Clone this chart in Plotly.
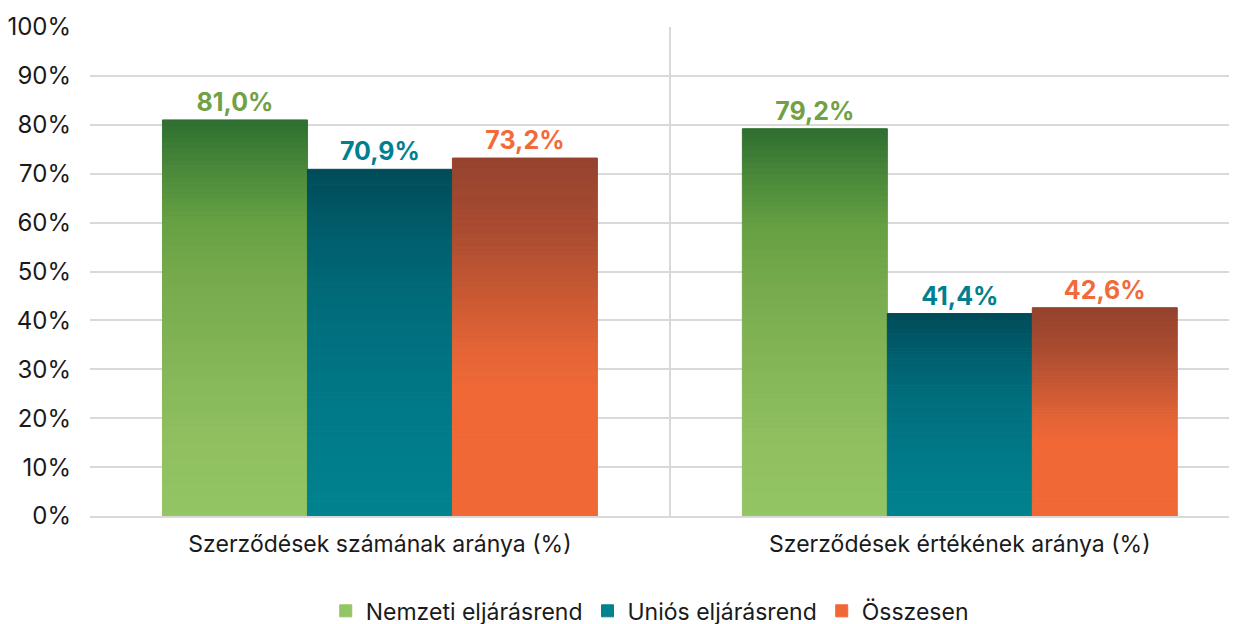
import plotly.graph_objects as go
import numpy as np

categories = ["Szerződések számának aránya (%)", "Szerződések értékének aránya (%)"]
series_names = ["Nemzeti eljárásrend", "Uniós eljárásrend", "Összesen"]
nemzeti = [81.0, 79.2]
unios = [70.9, 41.4]
osszesen = [73.2, 42.6]
y_ticks = [0, 10, 20, 30, 40, 50, 60, 70, 80, 90, 100]
y_ticklabels = [f"{v}%" for v in y_ticks]

# gradient stops: (fraction from top of bar, colour)
grad_green = [(0.0, "#2e6e30"), (0.12, "#4a883a"), (0.25, "#65a043"), (0.4, "#76aa4c"),
              (0.6, "#83b556"), (0.8, "#8fbf5f"), (1.0, "#94c564")]
grad_teal = [(0.0, "#004b59"), (0.2, "#005f6d"), (0.4, "#006d7c"), (0.7, "#007988"), (1.0, "#00838f")]
grad_orange = [(0.0, "#95432e"), (0.2, "#aa4c31"), (0.4, "#cc5a34"), (0.55, "#e66536"),
               (0.65, "#f06836"), (1.0, "#f06836")]
label_colors = ["#72a045", "#00808f", "#f26a3a"]

N_SEG = 70
FONT = "Inter"


def hex2rgb(h):
    h = h.lstrip("#")
    return np.array([int(h[i:i + 2], 16) for i in (0, 2, 4)], dtype=float)


def grad_color(stops, t):
    for (p0, c0), (p1, c1) in zip(stops[:-1], stops[1:]):
        if p0 <= t <= p1:
            f = 0 if p1 == p0 else (t - p0) / (p1 - p0)
            c = hex2rgb(c0) * (1 - f) + hex2rgb(c1) * f
            return "rgb(%d,%d,%d)" % tuple(np.round(c))
    c = hex2rgb(stops[-1][1])
    return "rgb(%d,%d,%d)" % tuple(np.round(c))


def fmt(v):
    return f"{v:.1f}%".replace(".", ",")


fig = go.Figure()
for name, vals, stops, lc in zip(series_names, [nemzeti, unios, osszesen],
                                 [grad_green, grad_teal, grad_orange], label_colors):
    xs, ys, bases, cols, texts = [], [], [], [], []
    for cat, v in zip(categories, vals):
        seg = v / N_SEG
        for k in range(N_SEG):
            xs.append(cat)
            ys.append(seg)
            bases.append(seg * k)
            t = 1 - (k + 0.5) / N_SEG  # fraction from top
            cols.append(grad_color(stops, t))
            texts.append(fmt(v) if k == N_SEG - 1 else "")
    fig.add_trace(go.Bar(
        name=name, x=xs, y=ys, base=bases, offsetgroup=name,
        marker=dict(color=cols, line=dict(width=1, color=cols)),
        text=texts, textposition="outside", cliponaxis=False, constraintext="none",
        textfont=dict(family=FONT, size=25, color=lc, weight="bold"),
        hoverinfo="skip",
    ))

fig.update_layout(
    width=1237, height=624,
    margin=dict(l=82, r=8, t=19, b=116, autoexpand=False),
    paper_bgcolor="white", plot_bgcolor="white",
    barmode="group", bargap=0.25, bargroupgap=0,
    font=dict(family=FONT, size=23, color="#1a1a1a"),
    showlegend=True,
    legend=dict(orientation="h", x=0.488, xanchor="center", xref="paper",
                y=-0.194, yanchor="middle", yref="paper",
                font=dict(family=FONT, size=23, color="#1a1a1a"),
                itemwidth=30, tracegroupgap=0, traceorder="normal"),
)
fig.update_xaxes(
    type="category", categoryorder="array", categoryarray=categories,
    range=[-0.5, 1.478], tickson="boundaries", showgrid=True,
    gridcolor="#d9d9d9", gridwidth=2, showline=True, linecolor="#d9d9d9", linewidth=2,
    ticks="", ticklabelstandoff=6, tickfont=dict(family=FONT, size=23, color="#1a1a1a"),
)
fig.update_yaxes(
    range=[0, 100], tickvals=y_ticks, ticktext=y_ticklabels,
    showgrid=True, gridcolor="#d9d9d9", gridwidth=2, zeroline=False,
    showline=False, ticks="", ticklabelstandoff=18,
    tickfont=dict(family=FONT, size=24, color="#1a1a1a"),
)

fig.write_html("out.html")
